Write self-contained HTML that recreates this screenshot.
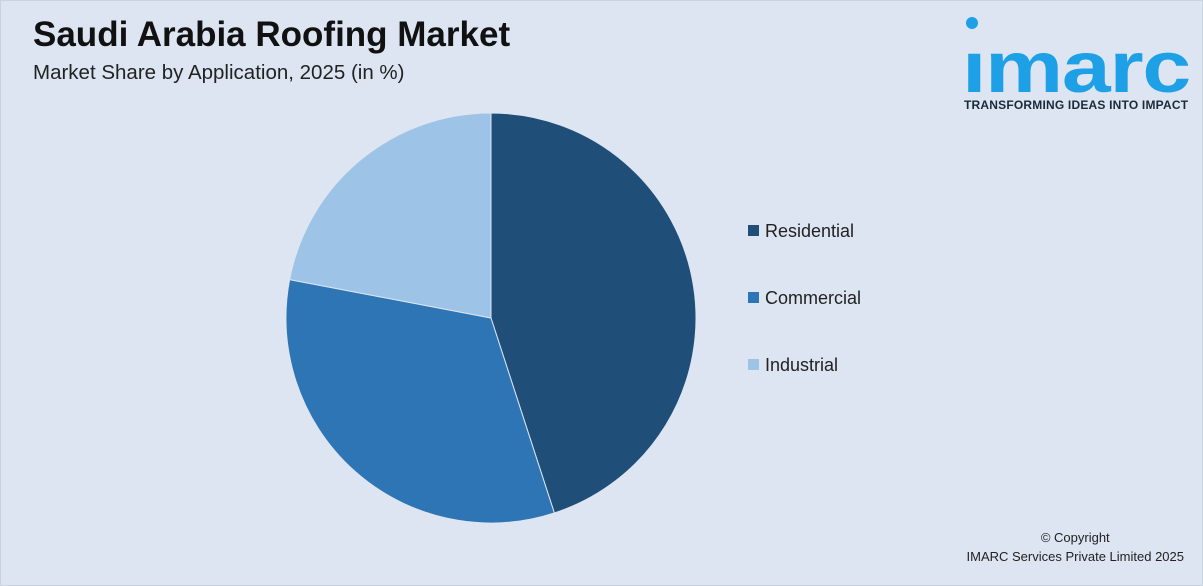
<!DOCTYPE html>
<html><head><meta charset="utf-8"><style>
html,body{margin:0;padding:0}
body{width:1203px;height:586px;background:#dce5f1;position:relative;overflow:hidden;font-family:"Liberation Sans",Arial,sans-serif}
.frame{position:absolute;left:0;top:0;width:1201px;height:584px;border:1px solid #c9d3e0}
h1{position:absolute;left:33px;top:15px;margin:0;font-size:35px;font-weight:bold;color:#111;white-space:nowrap}
.sub{position:absolute;left:33px;top:61px;font-size:20.5px;color:#222;white-space:nowrap}
.legend{position:absolute;left:748px;font-size:18px;color:#222}
.legend span{display:inline-block;width:11px;height:11px;margin-right:6px;vertical-align:1px}
.copy{position:absolute;right:19px;top:528px;font-size:13px;color:#222;text-align:right;line-height:19px}
.copy div:first-child{text-align:center}
</style></head><body>
<div class="frame"></div>
<h1>Saudi Arabia Roofing Market</h1>
<div class="sub">Market Share by Application, 2025 (in %)</div>
<div style="position:absolute;left:962px;top:14px;width:230px;height:100px">
<svg width="230" height="100">
<circle cx="10" cy="9" r="6" fill="#1ea0e6"/>
<text x="0" y="78" font-family="Liberation Sans,Arial,sans-serif" font-size="72" font-weight="bold" fill="#1ea0e6" letter-spacing="-1" textLength="228" lengthAdjust="spacingAndGlyphs">ımarc</text>
</svg>
<div style="position:absolute;left:2px;top:84px;font-size:12px;font-weight:bold;color:#1b2a3a;white-space:nowrap;letter-spacing:0.2px">TRANSFORMING IDEAS INTO IMPACT</div>
</div>
<svg id="pie" width="1203" height="586" style="position:absolute;left:0;top:0"></svg>
<div class="legend" style="top:221px"><span style="background:#1f4e79"></span>Residential</div>
<div class="legend" style="top:288px"><span style="background:#2e75b6"></span>Commercial</div>
<div class="legend" style="top:355px"><span style="background:#9dc3e6"></span>Industrial</div>
<div class="copy"><div>© Copyright</div><div>IMARC Services Private Limited 2025</div></div>
<script>
const categories=["Residential","Commercial","Industrial"];
const values=[45,33,22];
const colors=["#1f4e79","#2e75b6","#9dc3e6"];
const svg=document.getElementById('pie');
const cx=491,cy=318,r=205;
const total=values.reduce((a,b)=>a+b,0);
let a0=0;
values.forEach((v,i)=>{
  const a1=a0+v/total*2*Math.PI;
  const x0=cx+r*Math.sin(a0),y0=cy-r*Math.cos(a0),x1=cx+r*Math.sin(a1),y1=cy-r*Math.cos(a1);
  const p=document.createElementNS('http://www.w3.org/2000/svg','path');
  p.setAttribute('d',`M${cx},${cy}L${x0},${y0}A${r},${r} 0 ${a1-a0>Math.PI?1:0} 1 ${x1},${y1}Z`);
  p.setAttribute('fill',colors[i]);
  p.setAttribute('stroke','#dce5f1');p.setAttribute('stroke-width','1');
  
  
  svg.appendChild(p);
  a0=a1;
});
</script>
</body></html>
